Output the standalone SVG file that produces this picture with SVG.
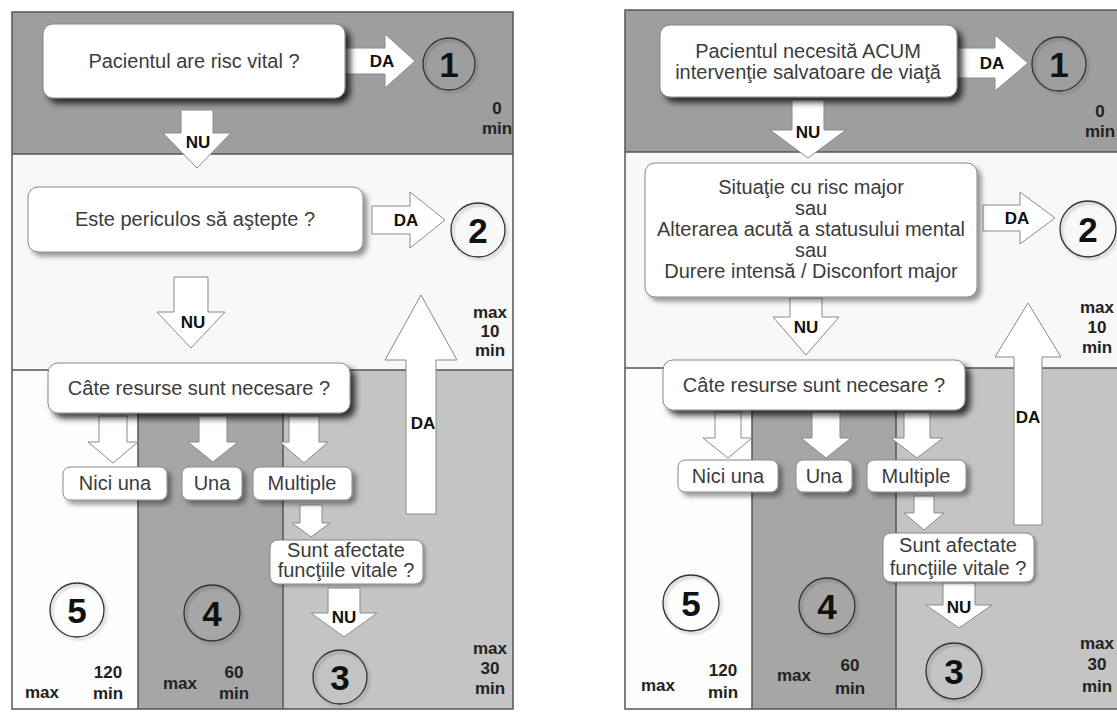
<svg xmlns="http://www.w3.org/2000/svg" width="1117" height="713" viewBox="0 0 1117 713">
<defs>
<style>
.bd{fill:#9e9e9e}.bl{fill:#f8f8f8}.cw{fill:#fdfdfd}.cd{fill:#a6a6a6}.cm{fill:#c4c4c4}
.ln{stroke:#555;stroke-width:1.5;fill:none}
.box{fill:#fff;stroke:#888;stroke-width:1}
.bt{font-family:"Liberation Sans",Arial,sans-serif;font-size:20px;fill:#3c3c3c;text-anchor:middle}
.lb{font-family:"Liberation Sans",Arial,sans-serif;font-size:17px;font-weight:bold;fill:#111;text-anchor:middle}
.tm{font-family:"Liberation Sans",Arial,sans-serif;font-size:17px;font-weight:bold;fill:#222;text-anchor:middle}
.dg{font-family:"Liberation Sans",Arial,sans-serif;font-size:35px;font-weight:bold;fill:#111;text-anchor:middle}
.cir{fill:none;stroke:#333;stroke-width:1.3}
.ar{fill:#fff;stroke:#8a8a8a;stroke-width:1}
</style>
<filter id="shd" x="-10%" y="-20%" width="130%" height="150%"><feDropShadow dx="5" dy="5" stdDeviation="3" flood-color="#000" flood-opacity="0.75"/></filter>
<filter id="shl" x="-10%" y="-20%" width="130%" height="150%"><feDropShadow dx="4" dy="4" stdDeviation="2.5" flood-color="#000" flood-opacity="0.4"/></filter>
<filter id="shc" x="-20%" y="-20%" width="150%" height="150%"><feDropShadow dx="2" dy="2" stdDeviation="1.5" flood-color="#000" flood-opacity="0.3"/></filter>
</defs>

<!-- LEFT PANEL backgrounds -->
<g id="panel-left">
<rect class="bd" x="12" y="12" width="501" height="142"/>
<rect class="bl" x="12" y="154" width="501" height="216"/>
<rect class="cw" x="12" y="370" width="126" height="339"/>
<rect class="cd" x="138" y="370" width="145" height="339"/>
<rect class="cm" x="283" y="370" width="230" height="339"/>
<rect class="ln" x="12" y="12" width="501" height="697"/>
<line class="ln" x1="12" y1="154" x2="513" y2="154"/>
<line class="ln" x1="12" y1="370" x2="513" y2="370"/>
<line class="ln" x1="138" y1="370" x2="138" y2="709"/>
<line class="ln" x1="283" y1="370" x2="283" y2="709"/>
<text class="tm" x="497" y="114">0</text><text class="tm" x="497" y="134">min</text>
<text class="tm" x="490" y="318">max</text><text class="tm" x="490" y="337">10</text><text class="tm" x="490" y="356">min</text>
<text class="tm" x="490" y="654">max</text><text class="tm" x="490" y="674">30</text><text class="tm" x="490" y="694">min</text>
<text class="tm" x="42" y="698">max</text><text class="tm" x="108" y="678">120</text><text class="tm" x="108" y="699">min</text>
<text class="tm" x="180" y="689">max</text><text class="tm" x="234" y="678">60</text><text class="tm" x="234" y="699">min</text>
</g>

<!-- RIGHT PANEL backgrounds -->
<g id="panel-right">
<rect class="bd" x="625" y="10" width="500" height="142"/>
<rect class="bl" x="625" y="152" width="500" height="216"/>
<rect class="cw" x="625" y="368" width="127" height="341"/>
<rect class="cd" x="752" y="368" width="144" height="341"/>
<rect class="cm" x="896" y="368" width="229" height="341"/>
<rect class="ln" x="625" y="10" width="500" height="699"/>
<line class="ln" x1="625" y1="152" x2="1125" y2="152"/>
<line class="ln" x1="625" y1="368" x2="1125" y2="368"/>
<line class="ln" x1="752" y1="368" x2="752" y2="709"/>
<line class="ln" x1="896" y1="368" x2="896" y2="709"/>
<text class="tm" x="1100" y="117">0</text><text class="tm" x="1100" y="137">min</text>
<text class="tm" x="1097" y="313">max</text><text class="tm" x="1097" y="333">10</text><text class="tm" x="1097" y="353">min</text>
<text class="tm" x="1097" y="649">max</text><text class="tm" x="1097" y="670">30</text><text class="tm" x="1097" y="692">min</text>
<text class="tm" x="658" y="691">max</text><text class="tm" x="723" y="676">120</text><text class="tm" x="723" y="698">min</text>
<text class="tm" x="794" y="681">max</text><text class="tm" x="850" y="671">60</text><text class="tm" x="850" y="694">min</text>
</g>

<!-- CONNECTORS -->
<g id="connectors">
<!-- left -->
<polygon class="ar" points="181,110 213,110 213,133 231,133 197,168 163,133 181,133"/>
<polygon class="ar" points="174,277 208,277 208,312 225,312 191,348 157,312 174,312"/>
<polygon class="ar" points="99,416 127,416 127,442 138,442 113,463 88,442 99,442"/>
<polygon class="ar" points="199,416 227,416 227,442 238,442 213,462 188,442 199,442"/>
<polygon class="ar" points="289,416 319,416 319,442 328,442 304,463 280,442 289,442"/>
<polygon class="ar" points="300,505 322,505 322,523 330,523 311,537 292,523 300,523"/>
<polygon class="ar" points="328,588 360,588 360,613 377,613 344,637 311,613 328,613"/>
<polygon class="ar" points="345,48 385,48 385,34 415,61 385,88 385,74 345,74"/>
<polygon class="ar" points="372,206 410,206 410,192 445,220 410,248 410,234 372,234"/>
<polygon class="ar" points="406,514 436,514 436,360 457,360 421,295 385,360 406,360"/>
<text class="lb" x="382" y="67">DA</text>
<text class="lb" x="406" y="226">DA</text>
<text class="lb" x="198" y="148">NU</text>
<text class="lb" x="193" y="328">NU</text>
<text class="lb" x="344" y="623">NU</text>
<text class="lb" x="423" y="429">DA</text>
<!-- right -->
<polygon class="ar" points="792,100 824,100 824,130 846,130 808,158 770,130 792,130"/>
<polygon class="ar" points="790,298 822,298 822,317 839,317 806,355 773,317 790,317"/>
<polygon class="ar" points="715,412 741,412 741,438 752,438 728,458 703,438 715,438"/>
<polygon class="ar" points="812,412 840,412 840,438 851,438 826,458 801,438 812,438"/>
<polygon class="ar" points="904,412 930,412 930,438 943,438 917,458 891,438 904,438"/>
<polygon class="ar" points="914,496 934,496 934,513 944,513 924,530 904,513 914,513"/>
<polygon class="ar" points="943,583 975,583 975,605 992,605 959,628 926,605 943,605"/>
<polygon class="ar" points="957,48 995,48 995,35 1028,63 995,91 995,78 957,78"/>
<polygon class="ar" points="983,205 1020,205 1020,192 1055,218 1020,244 1020,231 983,231"/>
<polygon class="ar" points="1014,525 1042,525 1042,357 1061,357 1028,303 995,357 1014,357"/>
<text class="lb" x="992" y="69">DA</text>
<text class="lb" x="1017" y="224">DA</text>
<text class="lb" x="808" y="138">NU</text>
<text class="lb" x="806" y="333">NU</text>
<text class="lb" x="959" y="613">NU</text>
<text class="lb" x="1028" y="423">DA</text>
</g>

<!-- LEFT NODES -->
<g id="l-q1"><rect class="box" x="43" y="24" width="302" height="74" rx="10" filter="url(#shd)"/><text class="bt" x="194" y="68">Pacientul are risc vital ?</text></g>
<g id="l-q2"><rect class="box" x="28" y="187" width="335" height="65" rx="10" filter="url(#shl)"/><text class="bt" x="195" y="226">Este periculos să aştepte ?</text></g>
<g id="l-q3"><rect class="box" x="48" y="363" width="302" height="50" rx="10" filter="url(#shd)"/><text class="bt" x="199" y="395">Câte resurse sunt necesare ?</text></g>
<g id="l-nici"><rect class="box" x="63" y="467" width="104" height="33" rx="7" filter="url(#shl)"/><text class="bt" x="115" y="490">Nici una</text></g>
<g id="l-una"><rect class="box" x="182" y="467" width="60" height="33" rx="7" filter="url(#shl)"/><text class="bt" x="212" y="490">Una</text></g>
<g id="l-mult"><rect class="box" x="253" y="467" width="99" height="33" rx="7" filter="url(#shl)"/><text class="bt" x="302" y="490">Multiple</text></g>
<g id="l-q4"><rect class="box" x="270" y="540" width="153" height="44" rx="8" filter="url(#shc)"/><text class="bt" x="346" y="557">Sunt afectate</text><text class="bt" x="346" y="577">funcţiile vitale ?</text></g>
<g id="l-c1"><circle class="cir" cx="449" cy="64" r="26" filter="url(#shc)"/><text class="dg" x="449" y="77">1</text></g>
<g id="l-c2"><circle class="cir" cx="478" cy="230" r="27" filter="url(#shc)"/><text class="dg" x="478" y="243">2</text></g>
<g id="l-c3"><circle class="cir" cx="340" cy="677" r="27" filter="url(#shc)"/><text class="dg" x="340" y="690">3</text></g>
<g id="l-c4"><circle class="cir" cx="212" cy="613" r="28" filter="url(#shc)"/><text class="dg" x="212" y="626">4</text></g>
<g id="l-c5"><circle class="cir" cx="77" cy="610" r="27" filter="url(#shc)"/><text class="dg" x="77" y="623">5</text></g>

<!-- RIGHT NODES -->
<g id="r-q1"><rect class="box" x="660" y="25" width="297" height="72" rx="10" filter="url(#shd)"/><text class="bt" x="808" y="58">Pacientul necesită ACUM</text><text class="bt" x="808" y="79">intervenţie salvatoare de viaţă</text></g>
<g id="r-q2"><rect class="box" x="645" y="163" width="332" height="134" rx="10" filter="url(#shl)"/><text class="bt" x="811" y="194">Situaţie cu risc major</text><text class="bt" x="811" y="215">sau</text><text class="bt" x="811" y="236">Alterarea acută a statusului mental</text><text class="bt" x="811" y="257">sau</text><text class="bt" x="811" y="278">Durere intensă / Disconfort major</text></g>
<g id="r-q3"><rect class="box" x="663" y="360" width="302" height="50" rx="10" filter="url(#shd)"/><text class="bt" x="814" y="392">Câte resurse sunt necesare ?</text></g>
<g id="r-nici"><rect class="box" x="678" y="460" width="100" height="32" rx="7" filter="url(#shl)"/><text class="bt" x="728" y="483">Nici una</text></g>
<g id="r-una"><rect class="box" x="796" y="460" width="56" height="32" rx="7" filter="url(#shl)"/><text class="bt" x="824" y="483">Una</text></g>
<g id="r-mult"><rect class="box" x="867" y="460" width="99" height="32" rx="7" filter="url(#shl)"/><text class="bt" x="916" y="483">Multiple</text></g>
<g id="r-q4"><rect class="box" x="883" y="533" width="151" height="49" rx="8" filter="url(#shc)"/><text class="bt" x="958" y="552">Sunt afectate</text><text class="bt" x="958" y="575">funcţiile vitale ?</text></g>
<g id="r-c1"><circle class="cir" cx="1059" cy="64" r="27" filter="url(#shc)"/><text class="dg" x="1059" y="77">1</text></g>
<g id="r-c2"><circle class="cir" cx="1088" cy="229" r="28" filter="url(#shc)"/><text class="dg" x="1088" y="242">2</text></g>
<g id="r-c3"><circle class="cir" cx="954" cy="671" r="28" filter="url(#shc)"/><text class="dg" x="954" y="684">3</text></g>
<g id="r-c4"><circle class="cir" cx="827" cy="606" r="28" filter="url(#shc)"/><text class="dg" x="827" y="619">4</text></g>
<g id="r-c5"><circle class="cir" cx="691" cy="603" r="28" filter="url(#shc)"/><text class="dg" x="691" y="616">5</text></g>
</svg>
